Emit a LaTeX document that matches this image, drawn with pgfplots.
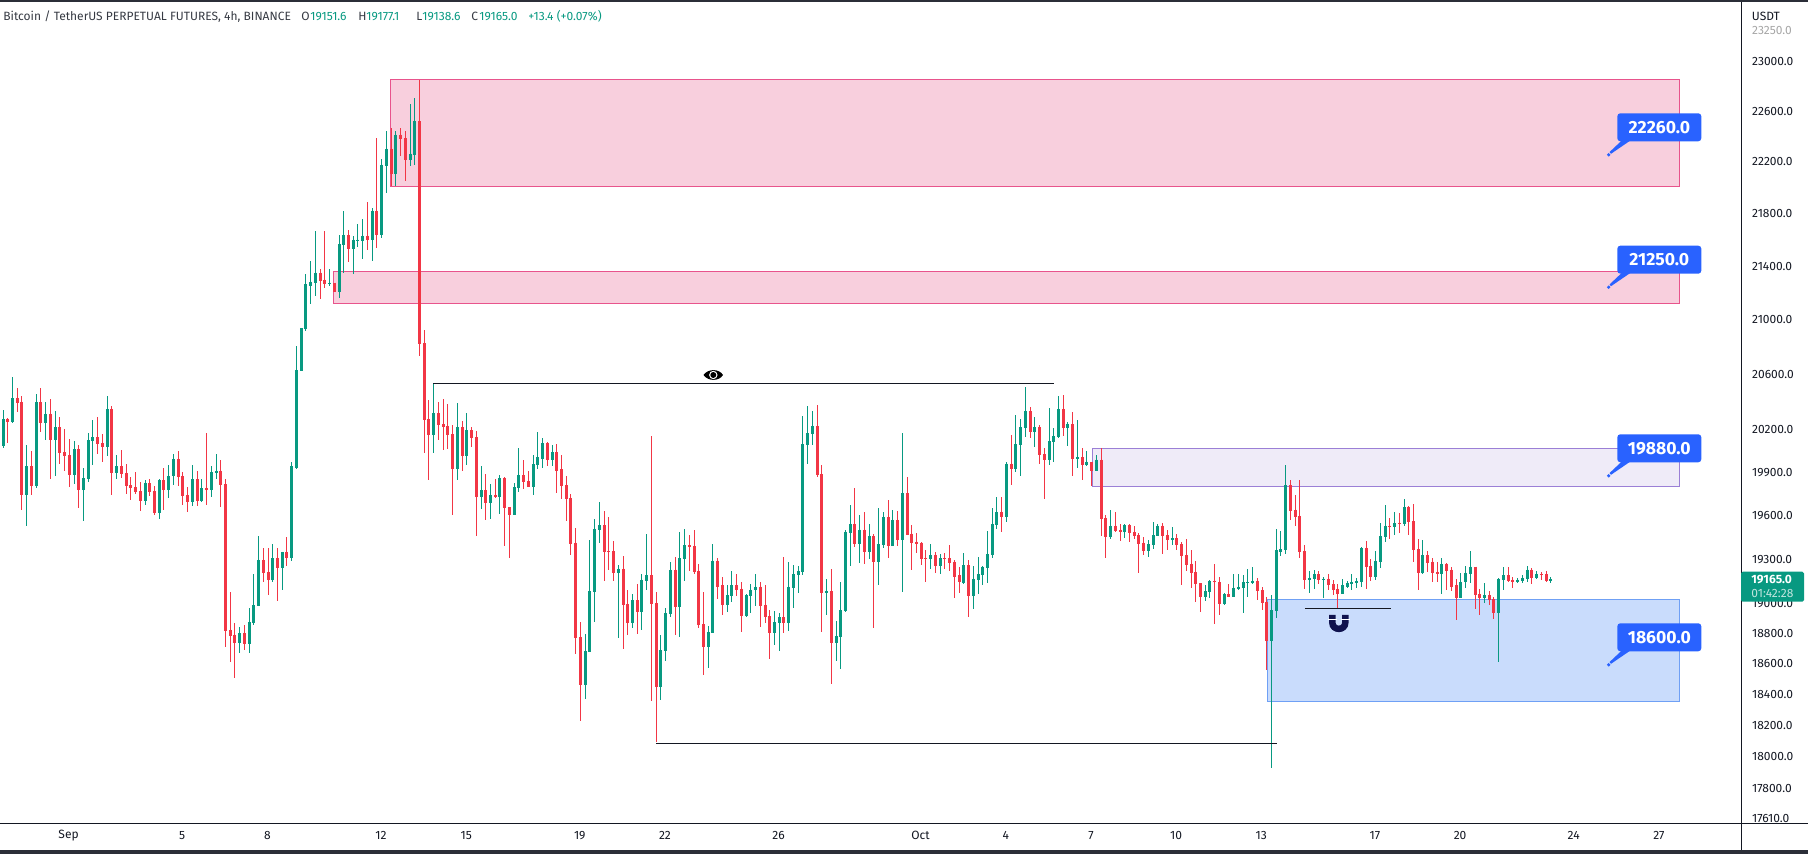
\documentclass[border=0pt]{standalone}
\usepackage{fontspec}
\setmainfont{Fira Sans}
\usepackage{pgfplots}
\usepackage{pgfplotstable}
\pgfplotsset{compat=1.18}
\definecolor{cg}{HTML}{089981}
\definecolor{cr}{HTML}{F23645}
\definecolor{ink}{HTML}{131722}
\definecolor{tvblue}{HTML}{2962FF}
\pgfplotstableread{
i o h l c
0 20082 20340 20068 20276
1 20276 20283 20104 20254
2 20254 20577 20247 20426
3 20426 20498 20326 20390
4 20398 20441 19639 19742
5 19742 20089 19528 19942
6 19942 20046 19742 19804
7 19804 20455 19790 20398
8 20398 20498 20183 20247
9 20247 20398 20125 20312
10 20312 20419 19852 20125
11 20125 20333 19873 20218
12 20218 20290 19962 20032
13 20039 20204 19914 20011
14 20018 20132 19797 19880
15 19880 20118 19818 20061
16 20061 20089 19652 19776
17 19776 19935 19563 19859
18 19852 20175 19832 20125
19 20118 20269 19949 20147
20 20147 20290 20025 20097
21 20104 20168 19976 20075
22 20075 20441 20011 20348
23 20348 20369 19742 19894
24 19894 20018 19852 19942
25 19942 20054 19859 19887
26 19894 19962 19749 19804
27 19811 19866 19707 19790
28 19797 19900 19749 19763
29 19769 19832 19632 19701
30 19701 19845 19673 19825
31 19825 19852 19735 19763
32 19769 19804 19604 19618
33 19618 19852 19577 19845
34 19845 19935 19639 19776
35 19776 19949 19721 19873
36 19873 20025 19811 19996
37 19996 20046 19804 19866
38 19873 19900 19673 19735
39 19742 19797 19625 19694
40 19694 19949 19666 19852
41 19852 19907 19666 19701
42 19701 19852 19694 19790
43 19790 20175 19673 19776
44 19776 19942 19728 19900
45 19894 20025 19852 19914
46 19914 19990 19659 19811
47 19818 19852 18710 18816
48 18823 19075 18611 18783
49 18790 18869 18509 18737
50 18737 18843 18670 18803
51 18803 18856 18690 18730
52 18730 18969 18670 18876
53 18869 19195 18856 18989
54 18982 19459 18982 19294
55 19294 19376 19148 19208
56 19215 19376 19055 19162
57 19162 19403 19142 19308
58 19308 19376 19016 19241
59 19241 19349 19089 19349
60 19349 19452 19255 19308
61 19308 19969 19288 19942
62 19935 20806 19921 20627
63 20620 20934 20620 20934
64 20927 21343 20912 21261
65 21253 21441 21118 21283
66 21275 21669 21178 21350
67 21350 21380 21155 21290
68 21298 21669 21238 21268
69 21268 21380 21253 21275
70 21275 21275 21208 21208
71 21208 21638 21163 21570
72 21562 21823 21350 21638
73 21638 21677 21433 21532
74 21532 21631 21336 21600
75 21592 21723 21547 21600
76 21592 21761 21449 21631
77 21631 21885 21517 21600
78 21600 21846 21441 21823
79 21823 22392 21540 21638
80 21638 22227 21615 22180
81 22172 22448 21962 22305
82 22305 22471 22011 22102
83 22102 22448 22011 22416
84 22416 22471 22243 22377
85 22385 22440 22048 22219
86 22219 22662 22172 22266
87 22258 22710 22180 22519
88 22519 22852 20728 20816
89 20823 20919 20032 20269
90 20276 20412 19845 20161
91 20161 20532 20032 20319
92 20319 20398 20125 20233
93 20240 20419 20054 20218
94 20226 20383 20061 20161
95 20168 20233 19604 19928
96 19928 20390 19845 20218
97 20218 20261 19907 20011
98 20011 20319 19949 20197
99 20197 20218 20075 20140
100 20147 20190 19459 19728
101 19728 19942 19645 19776
102 19776 19887 19570 19687
103 19687 19818 19577 19742
104 19742 19852 19721 19728
105 19728 19880 19611 19859
106 19859 19866 19390 19652
107 19659 19659 19308 19604
108 19604 19825 19604 19797
109 19790 20068 19763 19880
110 19880 19983 19783 19832
111 19838 19907 19797 19797
112 19797 20018 19742 19956
113 19949 20183 19928 20003
114 19996 20140 19935 20104
115 20104 20111 19942 19983
116 19983 20089 19942 20039
117 20039 20097 19756 19914
118 19921 20018 19714 19804
119 19811 19873 19563 19714
120 19721 19749 19328 19404
121 19411 19515 18664 18770
122 18777 18876 18226 18464
123 18464 18796 18374 18684
124 18677 19432 18677 19082
125 19075 19577 18876 19508
126 19501 19694 19411 19535
127 19535 19632 19155 19349
128 19356 19590 19228 19349
129 19356 19425 19155 19208
130 19208 19261 18770 19235
131 19235 19322 18697 18989
132 18996 19095 18790 18869
133 18869 19062 18836 19022
134 19022 19128 18796 18942
135 18942 19201 18823 19162
136 19155 19470 19089 19188
137 19188 20154 18355 18996
138 19002 19075 18091 18451
139 18451 18790 18361 18690
140 18684 18969 18618 18936
141 18929 19281 18909 19228
142 19228 19314 18790 18976
143 18976 19488 18777 19308
144 19301 19508 19155 19396
145 19396 19466 19221 19383
146 19390 19501 19195 19215
147 19221 19268 18836 18856
148 18863 19075 18528 18710
149 18710 18850 18573 18810
150 18803 19403 18803 19288
151 19288 19308 19029 19115
152 19122 19182 18922 18989
153 18989 19122 18942 19055
154 19049 19221 19009 19122
155 19122 19195 19049 19095
156 19102 19148 18810 18916
157 18916 19062 18909 19055
158 19049 19128 18936 19095
159 19089 19201 18982 19115
160 19115 19142 18843 18982
161 18989 19122 18869 18909
162 18916 18956 18631 18803
163 18803 18949 18723 18876
164 18869 18936 18684 18909
165 18909 19314 18803 18869
166 18869 19281 18816 19115
167 19108 19261 18969 19195
168 19188 19255 19069 19221
169 19215 20297 19188 20097
170 20089 20369 19956 20175
171 20168 20333 20089 20226
172 20226 20376 19866 19880
173 19887 19949 18810 19069
174 19069 19168 18922 19082
175 19082 19235 18470 18737
176 18737 18883 18618 18783
177 18777 19148 18566 18956
178 18949 19501 18942 19488
179 19480 19673 19255 19542
180 19542 19790 19383 19403
181 19403 19604 19274 19501
182 19501 19625 19268 19349
183 19349 19542 19301 19459
184 19459 19473 18836 19281
185 19281 19652 19122 19403
186 19396 19625 19376 19590
187 19590 19707 19308 19390
188 19390 19639 19390 19570
189 19570 19632 19390 19432
190 19432 20175 19075 19756
191 19756 19866 19466 19466
192 19473 19535 19228 19411
193 19418 19480 19342 19403
194 19411 19418 19261 19301
195 19308 19363 19148 19301
196 19301 19403 19235 19328
197 19328 19349 19208 19255
198 19255 19335 19195 19308
199 19308 19342 19235 19301
200 19308 19396 19221 19274
201 19281 19294 19035 19182
202 19188 19248 19069 19142
203 19135 19342 19128 19261
204 19261 19294 18909 19049
205 19049 19255 18962 19168
206 19162 19314 19062 19195
207 19188 19255 19122 19248
208 19241 19494 19135 19335
209 19328 19652 19308 19542
210 19535 19728 19508 19625
211 19625 19728 19488 19590
212 19590 19969 19556 19962
213 19962 20161 19811 19928
214 19928 20304 19900 20097
215 20089 20276 19873 20218
216 20211 20505 20147 20333
217 20333 20362 20140 20183
218 20183 20290 20075 20218
219 20218 20233 19956 20018
220 20025 20068 19714 19990
221 19990 20355 19949 20118
222 20111 20211 19969 20154
223 20147 20441 20140 20348
224 20348 20448 20154 20211
225 20211 20254 20082 20240
226 20240 20326 19873 19996
227 19996 20269 19935 20003
228 20003 20068 19845 19949
229 19949 20046 19942 19976
230 19976 19976 19806 19914
231 19914 20018 19907 19990
232 19990 20068 19459 19577
233 19583 19604 19308 19452
234 19452 19639 19439 19528
235 19528 19625 19487 19494
236 19501 19542 19425 19487
237 19487 19542 19445 19535
238 19535 19542 19418 19480
239 19487 19528 19439 19459
240 19466 19480 19208 19403
241 19411 19452 19328 19356
242 19356 19432 19314 19403
243 19396 19556 19369 19466
244 19459 19542 19459 19528
245 19528 19549 19335 19459
246 19466 19501 19363 19432
247 19432 19521 19396 19445
248 19445 19473 19363 19396
249 19403 19418 19122 19322
250 19328 19439 19221 19261
251 19268 19363 19108 19208
252 19215 19288 19009 19128
253 19135 19135 18942 19042
254 19042 19122 19016 19082
255 19075 19162 19035 19155
256 19155 19268 18863 19142
257 19148 19182 18922 18996
258 18996 19069 18989 19062
259 19062 19128 19042 19042
260 19042 19201 19042 19108
261 19102 19195 19089 19115
262 19108 19188 18936 19142
263 19135 19235 19042 19142
264 19135 19248 19128 19155
265 19155 19175 19022 19082
266 19089 19115 18956 19002
267 19009 19042 18560 18750
268 18750 19055 17931 18956
269 18949 19508 18903 19361
270 19354 19493 19320 19368
271 19361 19949 19334 19811
272 19811 19845 19570 19632
273 19639 19742 19528 19590
274 19597 19845 19308 19349
275 19356 19396 19102 19162
276 19162 19221 19069 19175
277 19168 19228 19102 19195
278 19195 19221 19128 19162
279 19162 19182 19035 19168
280 19168 19195 19089 19122
281 19128 19162 19055 19095
282 19102 19128 18973 19062
283 19062 19168 19062 19122
284 19115 19155 19108 19135
285 19128 19195 19089 19142
286 19135 19175 19108 19155
287 19148 19383 19115 19376
288 19376 19425 19102 19248
289 19255 19301 19155 19182
290 19182 19356 19162 19288
291 19281 19549 19241 19459
292 19452 19673 19418 19528
293 19528 19583 19439 19521
294 19521 19625 19466 19549
295 19549 19618 19480 19542
296 19542 19714 19528 19659
297 19659 19666 19466 19556
298 19563 19680 19281 19363
299 19369 19439 19089 19208
300 19208 19432 19195 19328
301 19328 19356 19215 19274
302 19281 19308 19142 19208
303 19215 19281 19142 19195
304 19195 19308 19062 19268
305 19268 19274 19089 19221
306 19228 19248 19082 19115
307 19122 19168 18889 19035
308 19035 19208 19035 19148
309 19142 19255 19108 19208
310 19201 19356 19135 19248
311 19248 19248 18962 19055
312 19062 19102 18922 19035
313 19035 19135 19002 19055
314 19055 19082 18989 19022
315 19029 19042 18896 18936
316 18936 19175 18611 19168
317 19162 19248 19089 19188
318 19188 19248 19142 19155
319 19162 19182 19108 19142
320 19142 19175 19135 19162
321 19155 19188 19135 19175
322 19168 19255 19148 19228
323 19228 19241 19128 19175
324 19175 19221 19168 19201
325 19201 19215 19162 19188
326 19195 19221 19142 19155
327 19151.6 19177.1 19138.6 19165.0
}\candles
\newcommand{\callout}[2]{%
  \begin{scope}[shift={(0,#1)}]
    \fill[tvblue,rounded corners=1.5pt] (1617.3,0) rectangle (1701.3,28);
    \fill[tvblue] (1622,27) -- (1630.7,27) -- (1611,40.5) -- (1609.5,38.8) -- cycle;
    \fill[tvblue] (1608.7,41.5) circle[radius=1.8];
    \node[text=white,font=\fontsize{8.8}{10}\selectfont\bfseries,anchor=center,inner sep=0pt] at (1659.3,14) {#2};
  \end{scope}}
\newcommand{\hdr}[3]{\node[anchor=base west,inner sep=0pt,font=\fontsize{6}{7}\selectfont,text=#2] at (#1,21) {#3};}
\begin{document}
\begin{tikzpicture}
\path[use as bounding box] (0pt,0pt) rectangle (904pt,427pt);
\begin{axis}[
  at={(0pt,15.15pt)},anchor=south west,
  scale only axis,width=870.85pt,height=410.85pt,
  ymode=log,ymin=17582,ymax=23492,
  xmin=-0.636,xmax=367.35,
  axis line style={draw=none},
  major tick length=0pt,yminorticks=false,
  tick style={draw=none},
  yticklabel pos=right,
  ytick={17610,17800,18000,18200,18400,18600,18800,19000,19300,19600,19900,20200,20600,21000,21400,21800,22200,22600,23000,23250},
  yticklabels={17610.0,17800.0,18000.0,18200.0,18400.0,18600.0,18800.0,19000.0,19300.0,19600.0,19900.0,20200.0,20600.0,21000.0,21400.0,21800.0,22200.0,22600.0,23000.0,\textcolor{black!35}{23250.0}},
  xtick={14,38,56,80,98,122,140,164,194,212,230,248,266,290,308,332,350},
  xticklabels={Sep,5,8,12,15,19,22,26,Oct,4,7,10,13,17,20,24,27},
  tick label style={font=\fontsize{6}{7}\selectfont,text=ink},
  yticklabel style={anchor=west,inner sep=0pt,xshift=5pt},
  xticklabel style={anchor=center,inner sep=0pt,yshift=-6.25pt,xshift=-.35pt},
  error bars/error mark=none,
]
% zones
\addplot[line width=.5pt,draw={rgb,255:red,232;green,84;blue,140},fill={rgb,255:red,248;green,207;blue,221}] coordinates {(81.85,22852)(354.25,22852)(354.25,22011)(81.85,22011)} --cycle;
\addplot[line width=.5pt,draw={rgb,255:red,232;green,84;blue,140},fill={rgb,255:red,248;green,207;blue,221}] coordinates {(69.85,21356)(354.25,21356)(354.25,21116)(69.85,21116)} --cycle;
\addplot[line width=.5pt,draw={rgb,255:red,155;green,127;blue,214},fill={rgb,255:red,239;green,235;blue,248}] coordinates {(230.15,20064)(354.25,20064)(354.25,19804)(230.15,19804)} --cycle;
\addplot[line width=.5pt,draw={rgb,255:red,111;green,160;blue,245},fill={rgb,255:red,201;green,220;blue,252}] coordinates {(267.15,19031)(354.25,19031)(354.25,18352)(267.15,18352)} --cycle;
% candles: wicks
\addplot[draw=none,no markers,restrict expr to domain={\thisrow{c}-\thisrow{o}}{0:100000},
  error bars/.cd,y dir=both,y explicit,error bar style={color=cg,line width=.5pt}]
  table[x=i,y=c,y error plus expr=\thisrow{h}-\thisrow{c},y error minus expr=\thisrow{c}-\thisrow{l}] {\candles};
\addplot[draw=none,no markers,restrict expr to domain={\thisrow{c}-\thisrow{o}}{-100000:-0.0001},
  error bars/.cd,y dir=both,y explicit,error bar style={color=cr,line width=.5pt}]
  table[x=i,y=c,y error plus expr=\thisrow{h}-\thisrow{c},y error minus expr=\thisrow{c}-\thisrow{l}] {\candles};
% candles: bodies
\addplot[draw=none,no markers,restrict expr to domain={\thisrow{c}-\thisrow{o}}{0:100000},
  error bars/.cd,y dir=minus,y explicit,error bar style={color=cg,line width=1.5pt}]
  table[x=i,y=c,y error minus expr=\thisrow{c}-\thisrow{o}] {\candles};
\addplot[draw=none,no markers,restrict expr to domain={\thisrow{c}-\thisrow{o}}{-100000:-0.0001},
  error bars/.cd,y dir=minus,y explicit,error bar style={color=cr,line width=1.5pt}]
  table[x=i,y=o,y error minus expr=\thisrow{o}-\thisrow{c}] {\candles};
% level lines
\addplot[ink,line width=.5pt] coordinates {(90.95,20530)(222.05,20530)};
\addplot[ink,line width=.5pt] coordinates {(137.95,18081)(269.15,18081)};
\addplot[ink,line width=.5pt] coordinates {(275.05,18964)(293.15,18964)};
\end{axis}
\begin{scope}[x=.5pt,y=-.5pt,shift={(0pt,427pt)}]
  % frame
  \fill[ink!90!white] (0,0) rectangle (1808,2.2);
  \fill[ink!90!white] (0,850.5) rectangle (1808,854);
  \draw[ink,line width=.5pt] (1741.7,2) -- (1741.7,850.5);
  \draw[ink,line width=.5pt] (0,823.7) -- (1808,823.7);
  % header
  \hdr{3}{ink!85!white}{Bitcoin / TetherUS PERPETUAL FUTURES, 4h, BINANCE}
  \hdr{301}{ink!85!white}{O}\hdr{310}{cg}{19151.6}
  \hdr{358}{ink!85!white}{H}\hdr{366}{cg}{19177.1}
  \hdr{416}{ink!85!white}{L}\hdr{422}{cg}{19138.6}
  \hdr{471}{ink!85!white}{C}\hdr{479}{cg}{19165.0}
  \hdr{528}{cg}{+13.4 (+0.07\%)}
  % unit
  \node[anchor=west,inner sep=0pt,font=\fontsize{6}{7}\selectfont,text=ink] at (1751.5,16.5) {USDT};
  % last price badge
  \fill[cg,rounded corners=.8pt] (1741,571.7) rectangle (1804,601.7);
  \node[anchor=west,inner sep=0pt,font=\fontsize{6}{7}\selectfont\bfseries,text=white] at (1751,579.5) {19165.0};
  \node[anchor=west,inner sep=0pt,font=\fontsize{6}{7}\selectfont,text=white!75!cg] at (1751,593.5) {01:42:28};
  % callouts
  \callout{113.3}{22260.0}
  \callout{245.7}{21250.0}
  \callout{434.3}{19880.0}
  \callout{623.3}{18600.0}
  % eye
  \fill[black] (703.5,375) .. controls (708,368.5) and (719,368.5) .. (723,375) .. controls (719,381.5) and (708,381.5) .. (703.5,375) -- cycle;
  \fill[white] (713.3,375) circle[radius=4.2];
  \fill[black] (713.3,375) circle[radius=3];
  % magnet
  \draw[ink!80!blue,line width=3.25pt] (1332.3,615) -- (1332.3,622.5) .. controls (1332.3,631) and (1345.3,631) .. (1345.3,622.5) -- (1345.3,615);
  \fill[white] (1328,619) rectangle (1336.6,620);
  \fill[white] (1341,619) rectangle (1349.6,620);
\end{scope}
\end{tikzpicture}
\end{document}
